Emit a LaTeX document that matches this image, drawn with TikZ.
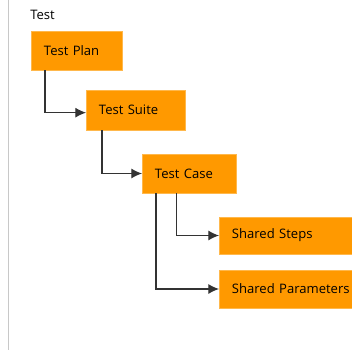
\documentclass[tikz,border=0pt]{standalone}
\usepackage{fontspec}
\setmainfont{Open Sans}
\usepackage{xcolor}
\usetikzlibrary{arrows.meta,calc}
\definecolor{boxorange}{RGB}{255,153,0}
\definecolor{rulegray}{RGB}{200,200,200}

\begin{document}
\begin{tikzpicture}[
  x=0.75pt, y=-0.75pt,
  every node/.style={font=\fontsize{9.8}{12}\selectfont, text=black},
  bx/.style={fill=boxorange, draw=boxorange!70!white, line width=0.4pt,
             anchor=west, align=left, inner xsep=9.5pt, inner ysep=0pt},
  ar/.style={-{Latex[length=8pt,width=7.5pt]}, line width=0.8pt, draw=black!80}]
  \useasboundingbox (0,0) rectangle (352,350);
  \draw[rulegray, line width=1.1pt] (8.5,0) -- (8.5,350);
  \node[anchor=west, inner sep=0pt] (title) at (30,15) {Test};
  % boxes: west edge, vertical centre, width, height in px
  \node[bx, text width=49pt, minimum height=29pt] (plan) at (31,50.5) {Test Plan};
  \node[bx, text width=55pt, minimum height=30pt] (suite) at (86,110) {Test Suite};
  \node[bx, text width=51.5pt, minimum height=29pt] (case) at (142,173.5) {Test Case};
  \node[bx, text width=110pt, minimum height=28pt] (steps) at (219,235.5) {Shared Steps};
  \node[bx, text width=110pt, minimum height=28.5pt] (params) at (219,289) {Shared Parameters};
  \draw[ar] ([xshift=10.5pt]plan.south west) |- ([yshift=-2pt]suite.west);
  \draw[ar] ([xshift=12pt]suite.south west) |- (case.west);
  \draw[ar] ([xshift=26pt]case.south west) |- (steps.west);
  \draw[ar] ([xshift=10.5pt]case.south west) |- (params.west);
\end{tikzpicture}
\end{document}
